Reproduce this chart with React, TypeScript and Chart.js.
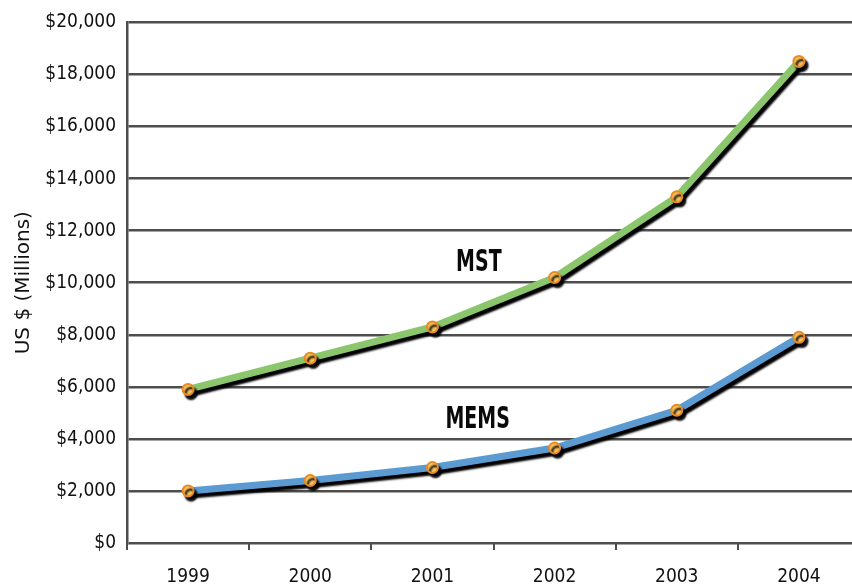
import { useEffect, useRef } from 'react';
import { Chart, registerables } from 'chart.js';

Chart.register(...registerables);

const years = ['1999', '2000', '2001', '2002', '2003', '2004'];
const mstValues = [5900, 7100, 8300, 10200, 13300, 18500];
const memsValues = [2000, 2400, 2900, 3650, 5100, 7900];
const yMin = 0;
const yMax = 20000;
const yStep = 2000;
const yTitle = 'US $ (Millions)';
const seriesNames = ['MST', 'MEMS'];
// anchor of each series name, in data units (category index, value)
const nameAnchorX = [2.38, 2.37];
const nameAnchorY = [10750, 4720];

const FONT = '"DejaVu Sans Condensed", "DejaVu Sans", sans-serif';

const shadowPlugin = {
  id: 'lineShadow',
  beforeDatasetDraw(chart: any) {
    const ctx = chart.ctx;
    ctx.save();
    ctx.shadowColor = 'rgba(0,0,0,1)';
    ctx.shadowOffsetX = 3;
    ctx.shadowOffsetY = 4;
    ctx.shadowBlur = 2;
  },
  afterDatasetDraw(chart: any) {
    chart.ctx.restore();
  },
};

const namePlugin = {
  id: 'seriesNames',
  afterDraw(chart: any) {
    const ctx = chart.ctx;
    const xs = chart.scales.x;
    const ys = chart.scales.y;
    ctx.save();
    ctx.font = 'bold 31px "Liberation Sans Narrow", "DejaVu Sans Condensed", sans-serif';
    ctx.fillStyle = '#0a0a0a';
    ctx.textAlign = 'center';
    ctx.textBaseline = 'middle';
    seriesNames.forEach((name, i) => {
      const px = xs.getPixelForValue(nameAnchorX[i]);
      const py = ys.getPixelForValue(nameAnchorY[i]);
      ctx.save();
      ctx.translate(px, py);
      ctx.scale(0.68, 1);
      ctx.fillText(name, 0, 0);
      ctx.restore();
    });
    ctx.restore();
  },
};

export default function App() {
  const ref = useRef<HTMLCanvasElement | null>(null);

  useEffect(() => {
    if (!ref.current) return;
    const gridColor = '#4d4d4d';
    const chart = new Chart(ref.current, {
      type: 'line',
      data: {
        labels: years,
        datasets: [
          {
            label: seriesNames[0],
            data: mstValues,
            borderColor: '#8cc66c',
            borderWidth: 7,
            tension: 0,
            pointRadius: 5.5,
            pointBackgroundColor: '#f8c25e',
            pointBorderColor: '#e88b22',
            pointBorderWidth: 2,
          },
          {
            label: seriesNames[1],
            data: memsValues,
            borderColor: '#5b9bd2',
            borderWidth: 7,
            tension: 0,
            pointRadius: 5.5,
            pointBackgroundColor: '#f8c25e',
            pointBorderColor: '#e88b22',
            pointBorderWidth: 2,
          },
        ],
      },
      options: {
        animation: false,
        responsive: true,
        maintainAspectRatio: false,
        layout: { padding: { top: 22, right: 10, left: 0, bottom: 0 } },
        plugins: {
          legend: { display: false },
          tooltip: { enabled: false },
        },
        scales: {
          x: {
            offset: true,
            grid: {
              offset: true,
              drawOnChartArea: false,
              drawTicks: true,
              tickLength: 7,
              color: gridColor,
              lineWidth: 2,
            },
            border: { display: false },
            ticks: {
              color: '#111',
              font: { family: FONT, size: 19 },
              padding: 16,
              maxRotation: 0,
            },
            afterFit(scale: any) {
              scale.height = 44;
            },
          },
          y: {
            min: yMin,
            max: yMax,
            grid: {
              color: gridColor,
              lineWidth: 2.5,
              drawTicks: false,
            },
            border: { display: true, color: gridColor, width: 2.5 },
            ticks: {
              stepSize: yStep,
              color: '#111',
              font: { family: FONT, size: 19 },
              padding: 11,
              callback: (v: any) => '$' + Number(v).toLocaleString('en-US'),
            },
            title: {
              display: true,
              text: yTitle,
              color: '#111',
              font: { family: '"DejaVu Sans", sans-serif', size: 20 },
              padding: { top: 12, bottom: 0 },
            },
            afterFit(scale: any) {
              scale.width = 127;
            },
          },
        },
      },
      plugins: [shadowPlugin, namePlugin],
    });
    return () => chart.destroy();
  }, []);

  return (
    <div
      style={{
        position: 'fixed',
        left: 0,
        top: 0,
        width: 852,
        height: 587,
        overflow: 'hidden',
        background: '#fff',
      }}
    >
      <div style={{ position: 'relative', width: 870, height: 587 }}>
        <canvas ref={ref} />
      </div>
    </div>
  );
}
